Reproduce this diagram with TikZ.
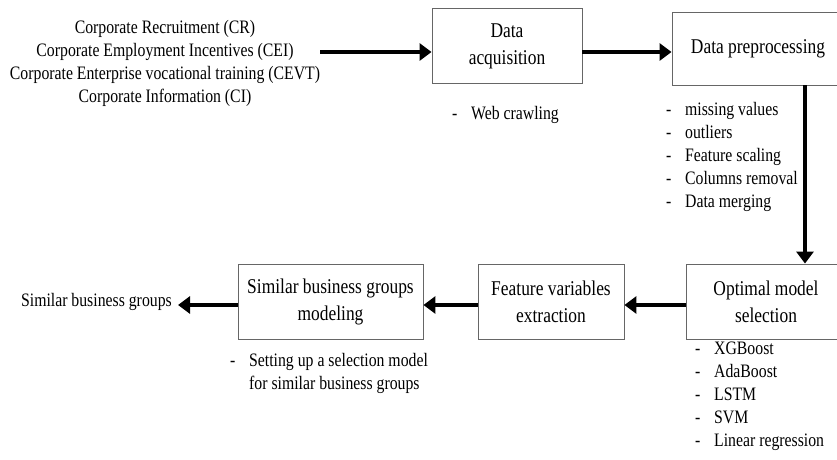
\documentclass[tikz,border=0pt]{standalone}
\usepackage{fontspec}
\setmainfont[FakeStretch=0.83]{Liberation Serif}
\usetikzlibrary{arrows.meta}
\newcommand{\itm}[1]{\makebox[19pt][l]{-}#1}
\begin{document}
\begin{tikzpicture}[x=1pt,y=-1pt,
  stage/.style={draw=black!60,line width=0.9pt,minimum height=75pt,align=center,inner sep=0pt,font=\fontsize{21}{27}\selectfont},
  note/.style={align=left,inner sep=0pt,font=\fontsize{19}{23}\selectfont},
  flow/.style={line width=4.8pt,-{Triangle[length=12pt,width=17pt]}}]
\clip (0,0) rectangle (837,459);
\coordinate (r1) at (0,52); \coordinate (r2) at (0,305); \coordinate (c1) at (805,0);
% stages
\node[note,align=center] (input) at (165,63.5) {Corporate Recruitment (CR)\\Corporate Employment Incentives (CEI)\\Corporate Enterprise vocational training (CEVT)\\Corporate Information (CI)};
\node[stage,minimum width=150pt] (acq) at (507,46) {Data\\acquisition};
\node[stage,minimum width=172pt,minimum height=73pt] (prep) at (758,48.5) {Data preprocessing};
\node[stage,minimum width=160pt] (optm) at (766,301.5) {Optimal model\\selection};
\node[stage,minimum width=146pt] (feat) at (551,301.5) {Feature variables\\extraction};
\node[stage,minimum width=185pt] (simb) at (330.5,301.5) {Similar business groups\\modeling};
\node[note,anchor=east] (output) at (172,302) {Similar business groups};
% notes under the stages
\node[note,anchor=north west] (acqnote) at (452,106) {\itm{Web crawling}};
\node[note,anchor=north west] (prepnote) at (666,102) {\itm{missing values}\\\itm{outliers}\\\itm{Feature scaling}\\\itm{Columns removal}\\\itm{Data merging}};
\node[note,anchor=north west] (optmnote) at (695,342) {\itm{XGBoost}\\\itm{AdaBoost}\\\itm{LSTM}\\\itm{SVM}\\\itm{Linear regression}};
\node[note,anchor=north west] (simbnote) at (230,353) {\itm{Setting up a selection model}\\\hspace*{19pt}for similar business groups};
% flow
\draw[flow] (input.east |- r1) -- (acq.west |- r1);
\draw[flow] (acq.east |- r1) -- (prep.west |- r1);
\draw[flow] (prep.south -| c1) -- (optm.north -| c1);
\draw[flow] (optm.west |- r2) -- (feat.east |- r2);
\draw[flow] (feat.west |- r2) -- (simb.east |- r2);
\draw[flow,shorten >=6pt] (simb.west |- r2) -- (output.east |- r2);
\end{tikzpicture}
\end{document}
